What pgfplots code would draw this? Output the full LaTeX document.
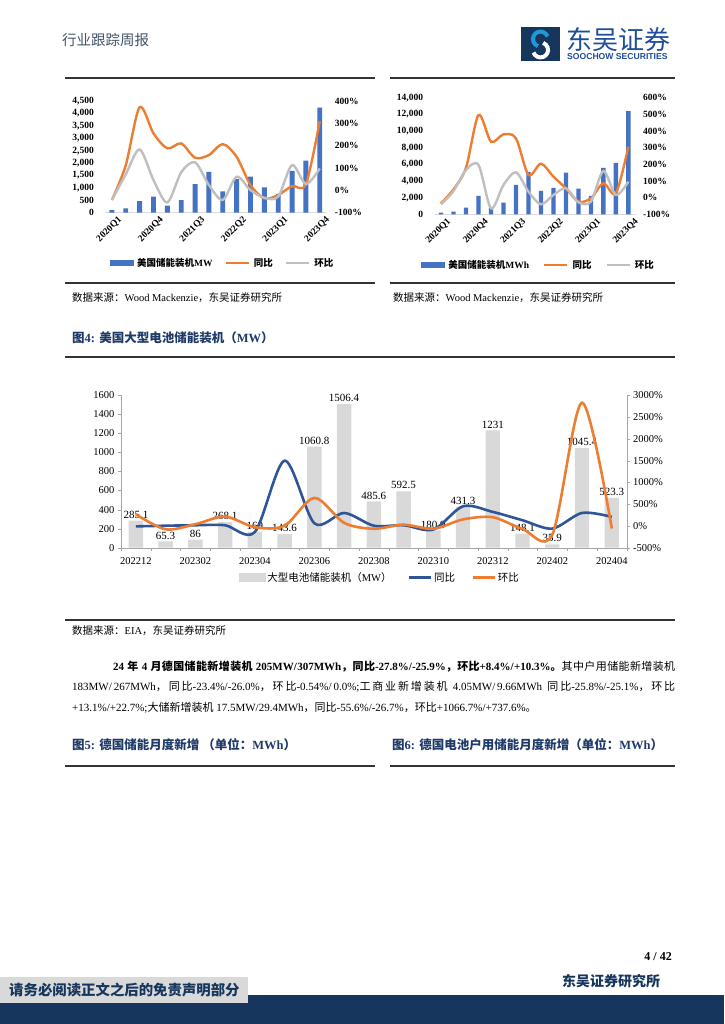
\documentclass[border=0pt]{standalone}
\usepackage{fontspec}
\setmainfont{Liberation Serif}
\newfontfamily\cjk{Noto Sans CJK SC}
\newfontfamily\arialf{Liberation Sans}
\usepackage{pgfplots}
\pgfplotsset{compat=1.18}
\XeTeXlinebreaklocale "zh"
\XeTeXlinebreakskip=0pt plus 1pt
\XeTeXinterchartokenstate=1
\newXeTeXintercharclass\CJKcls
\newcount\tmpc
\def\setcls#1#2{\tmpc=#1\relax\loop\XeTeXcharclass\tmpc=\CJKcls\relax\advance\tmpc by 1\relax\ifnum\tmpc<#2\repeat}
\setcls{"3000}{"3040}
\setcls{"4E00}{"A000}
\setcls{"FF00}{"FF60}
\XeTeXinterchartoks 0 \CJKcls = {\begingroup\cjk}
\XeTeXinterchartoks 4095 \CJKcls = {\begingroup\cjk}
\XeTeXinterchartoks \CJKcls 0 = {\endgroup}
\XeTeXinterchartoks \CJKcls 4095 = {\endgroup}
\definecolor{barblue}{HTML}{4472C4}
\definecolor{lnorange}{HTML}{ED7D31}
\definecolor{lngray}{HTML}{BFBFBF}
\definecolor{cbar}{HTML}{D9D9D9}
\definecolor{cblue}{HTML}{2F5597}
\definecolor{axgray}{HTML}{A6A6A6}
\definecolor{titlenavy}{HTML}{1F3A68}
\definecolor{bandnavy}{HTML}{17365D}
\definecolor{hdrgray}{HTML}{44546A}
\definecolor{logoblue}{HTML}{1E4E9A}
\definecolor{logolight}{HTML}{1E9BD7}
\definecolor{footgray}{HTML}{D9D9D9}
\pgfplotsset{
  qstyle/.style={
    scale only axis, anchor=south west, xmin=-0.5, xmax=15.5,
    tick style={draw=none}, scaled y ticks=false,
    /pgf/number format/1000 sep={,},
    /pgf/number format/assume math mode=true,
    yticklabel style={font=\bfseries\fontsize{9.5}{9.5}\selectfont, inner sep=0pt},
  },
}
\begin{document}
\begin{tikzpicture}
\useasboundingbox (0,0) rectangle (724pt,-1024pt);
\fill[white] (0,0) rectangle (724pt,-1024pt);
% header
\node[anchor=west,inner sep=0,font=\fontsize{14.5}{14.5}\selectfont,text=hdrgray] at (62pt,-40pt) {行业跟踪周报};
\fill[bandnavy] (521pt,-27pt) rectangle (560pt,-61pt);
\draw[logolight, line width=4pt] (547.5pt,-36.5pt) arc[start angle=20, end angle=250, radius=7.5pt];
\draw[white, line width=4pt] (533.5pt,-52.5pt) arc[start angle=200, end angle=430, radius=7.5pt];
\node[anchor=west,inner sep=0,font=\fontsize{26}{26}\selectfont,text=logoblue] at (566pt,-40pt) {东吴证券};
\node[anchor=west,inner sep=0,font=\arialf\bfseries\fontsize{8.6}{8.6}\selectfont,text=logoblue] at (567pt,-57pt) {SOOCHOW SECURITIES};
% frame lines
\draw[line width=1.3pt, black!80] (65pt,-78pt) -- (375pt,-78pt) (390pt,-78pt) -- (675pt,-78pt);
\draw[line width=1.3pt, black!80] (65pt,-283pt) -- (375pt,-283pt) (390pt,-283pt) -- (675pt,-283pt);
\node[anchor=west,inner sep=0,font=\fontsize{10.5}{10.5}\selectfont] at (72pt,-298pt) {数据来源：Wood Mackenzie，东吴证券研究所};
\node[anchor=west,inner sep=0,font=\fontsize{10.5}{10.5}\selectfont] at (393pt,-298pt) {数据来源：Wood Mackenzie，东吴证券研究所};
\node[anchor=west,inner sep=0,font=\bfseries\fontsize{12.5}{12.5}\selectfont,text=titlenavy] at (72pt,-338pt) {图4: 美国大型电池储能装机（MW）};
\draw[line width=1.3pt, black!80] (65pt,-357pt) -- (675pt,-357pt);
\draw[line width=1.3pt, black!80] (65pt,-620pt) -- (675pt,-620pt);
\node[anchor=west,inner sep=0,font=\fontsize{10.5}{10.5}\selectfont] at (72pt,-631pt) {数据来源：EIA，东吴证券研究所};
\node[anchor=north west,inner sep=0,text width=603pt,align=justify,font=\fontsize{11}{20.5}\selectfont] at (72pt,-660.5pt)
 {\hspace*{41pt}{\bfseries 24 年 4 月德国储能新增装机 205MW/307MWh，同比-27.8\%/-25.9\%，环比+8.4\%/+10.3\%。}其中户用储能新增装机\linebreak
 183MW/267MWh，同比-23.4\%/-26.0\%，环比-0.54\%/0.0\%;工商业新增装机 4.05MW/9.66MWh 同比-25.8\%/-25.1\%，环比\linebreak
 +13.1\%/+22.7\%;大储新增装机 17.5MW/29.4MWh，同比-55.6\%/-26.7\%，环比+1066.7\%/+737.6\%。};
\node[anchor=west,inner sep=0,font=\bfseries\fontsize{12.5}{12.5}\selectfont,text=titlenavy] at (72pt,-745pt) {图5: 德国储能月度新增 （单位：MWh）};
\node[anchor=west,inner sep=0,font=\bfseries\fontsize{12.5}{12.5}\selectfont,text=titlenavy] at (392pt,-745pt) {图6: 德国电池户用储能月度新增（单位：MWh）};
\draw[line width=1.3pt, black!80] (65pt,-766pt) -- (375pt,-766pt) (390pt,-766pt) -- (675pt,-766pt);
% footer
\node[anchor=east,inner sep=0,font=\bfseries\fontsize{12}{12}\selectfont] at (672pt,-957pt) {4 / 42};
\node[anchor=west,inner sep=0,font=\bfseries\fontsize{14}{14}\selectfont,text=bandnavy] at (562pt,-981pt) {东吴证券研究所};
\fill[bandnavy] (0,-995pt) rectangle (724pt,-1024pt);
\fill[footgray] (0,-977pt) rectangle (248pt,-1003pt);
\node[anchor=west,inner sep=0,font=\bfseries\fontsize{14.4}{14.4}\selectfont,text=bandnavy] at (9pt,-990pt) {请务必阅读正文之后的免责声明部分};

% ---------- chart 1 ----------
\begin{axis}[qstyle, at={(105pt,-212.7pt)}, width=221.7pt, height=111.7pt,
  ymin=0, ymax=4500, ytick={0,500,...,4500},
  axis x line*=bottom, axis y line*=left,
  y axis line style={draw=none}, x axis line style={draw=cbar, line width=0.7pt, -},
  xtick={0,3,6,9,12,15}, xticklabels={2020Q1,2020Q4,2021Q3,2022Q2,2023Q1,2023Q4},
  xticklabel style={rotate=45, anchor=east, font=\bfseries\fontsize{9.5}{9.5}\selectfont, inner sep=0pt, xshift=2pt, yshift=-10pt},
  yticklabel style={xshift=-11pt}]
\addplot[ybar, bar width=4.9pt, fill=barblue, draw=none] coordinates {
(0,100)(1,175)(2,470)(3,645)(4,282)(5,510)(6,1155)(7,1640)(8,860)(9,1357)(10,1450)(11,1020)(12,760)(13,1680)(14,2095)(15,4230)};
\end{axis}
\begin{axis}[qstyle, at={(105pt,-212.7pt)}, width=221.7pt, height=111.7pt,
  ymin=-100, ymax=400, ytick={-100,0,...,400},
  axis y line*=right, axis x line=none, y axis line style={draw=none},
  yticklabel={\pgfmathprintnumber{\tick}\%}, yticklabel style={anchor=west, xshift=8pt},
  legend image code/.code={\draw[#1] (0pt,0pt) -- (23pt,0pt);},
  legend style={at={(0.53,-0.45)}, anchor=center, draw=none, fill=none, legend columns=3,
    font=\bfseries\fontsize{9.5}{9.5}\selectfont, /tikz/every even column/.append style={column sep=10pt},
    /tikz/every odd column/.append style={column sep=2pt}},
  legend cell align=left]
\addlegendimage{legend image code/.code={\fill[barblue] (0pt,-2.6pt) rectangle (23pt,2.6pt);}}
\addlegendentry{美国储能装机MW}
\addplot[smooth, lnorange, line width=2.4pt] coordinates {
(0,-43)(1,113)(2,372)(3,255)(4,188)(5,210)(6,146)(7,158)(8,207)(9,150)(10,24)(11,-36)(12,-21)(13,19)(14,28)(15,310)};
\addlegendentry{同比}
\addplot[smooth, lngray, line width=2.4pt] coordinates {
(0,-43)(1,72)(2,183)(3,46)(4,-54)(5,81)(6,125)(7,24)(8,-43)(9,61)(10,1)(11,-33)(12,-28)(13,113)(14,28)(15,98)};
\addlegendentry{环比}
\end{axis}

% ---------- chart 2 ----------
\begin{axis}[qstyle, at={(434.8pt,-214.3pt)}, width=199.8pt, height=116.6pt,
  ymin=0, ymax=14000, ytick={0,2000,...,14000},
  axis x line*=bottom, axis y line*=left,
  y axis line style={draw=none}, x axis line style={draw=cbar, line width=0.7pt, -},
  xtick={0,3,6,9,12,15}, xticklabels={2020Q1,2020Q4,2021Q3,2022Q2,2023Q1,2023Q4},
  xticklabel style={rotate=45, anchor=east, font=\bfseries\fontsize{9.5}{9.5}\selectfont, inner sep=0pt, xshift=2pt, yshift=-10pt},
  yticklabel style={xshift=-11.5pt}]
\addplot[ybar, bar width=4.3pt, fill=barblue, draw=none] coordinates {
(0,200)(1,320)(2,800)(3,2200)(4,800)(5,1400)(6,3520)(7,5080)(8,2800)(9,3160)(10,5000)(11,3080)(12,2200)(13,5560)(14,6160)(15,12400)};
\end{axis}
\begin{axis}[qstyle, at={(434.8pt,-214.3pt)}, width=199.8pt, height=116.6pt,
  ymin=-100, ymax=600, ytick={-100,0,...,600},
  axis y line*=right, axis x line=none, y axis line style={draw=none},
  yticklabel={\pgfmathprintnumber{\tick}\%}, yticklabel style={anchor=west, xshift=8.4pt},
  legend image code/.code={\draw[#1] (0pt,0pt) -- (23pt,0pt);},
  legend style={at={(0.519,-0.435)}, anchor=center, draw=none, fill=none, legend columns=3,
    font=\bfseries\fontsize{9.5}{9.5}\selectfont, /tikz/every even column/.append style={column sep=12pt},
    /tikz/every odd column/.append style={column sep=2pt}},
  legend cell align=left]
\addlegendimage{legend image code/.code={\fill[barblue] (0pt,-2.6pt) rectangle (23pt,2.6pt);}}
\addlegendentry{美国储能装机MWh}
\addplot[smooth, lnorange, line width=2.4pt] coordinates {
(0,-34)(1,50)(2,180)(3,496)(4,336)(5,380)(6,356)(7,136)(8,204)(9,126)(10,56)(11,-24)(12,-4)(13,86)(14,26)(15,306)};
\addlegendentry{同比}
\addplot[smooth, lngray, line width=2.4pt] coordinates {
(0,-40)(1,40)(2,166)(3,196)(4,-64)(5,76)(6,152)(7,36)(8,-40)(9,16)(10,56)(11,-28)(12,-24)(13,160)(14,16)(15,96)};
\addlegendentry{环比}
\end{axis}

% ---------- chart 3 ----------
\begin{axis}[scale only axis, anchor=south west, at={(121pt,-547.7pt)}, width=505.7pt, height=152.4pt,
  xmin=-0.5, xmax=16.5, ymin=0, ymax=1600, ytick={0,200,...,1600},
  scaled y ticks=false, /pgf/number format/1000 sep={}, /pgf/number format/assume math mode=true,
  axis x line*=bottom, axis y line*=left,
  x axis line style={draw=axgray, -}, y axis line style={draw=axgray, -},
  tick align=outside, major tick length=3pt, tick style={draw=axgray},
  xtick={0,2,...,16}, xticklabels={202212,202302,202304,202306,202308,202310,202312,202402,202404},
  major x tick style={draw=none},
  extra x ticks={-0.5,0.5,...,16.5}, extra x tick labels={},
  extra x tick style={major x tick style={draw=axgray}},
  xticklabel style={font=\fontsize{10.5}{10.5}\selectfont, yshift=-3.5pt},
  yticklabel style={font=\fontsize{10.5}{10.5}\selectfont},
  nodes near coords, point meta=explicit symbolic,
  nodes near coords style={font=\fontsize{11}{11}\selectfont, inner sep=2pt}]
\addplot[ybar, bar width=14.3pt, fill=cbar, draw=none] coordinates {
(0,285.1)[285.1] (1,65.3)[65.3] (2,86)[86] (3,268.1)[268.1] (4,169)[169] (5,143.6)[143.6]
(6,1060.8)[1060.8] (7,1506.4)[1506.4] (8,485.6)[485.6] (9,592.5)[592.5] (10,180.9)[180.9]
(11,431.3)[431.3] (12,1231)[1231] (13,148.1)[148.1] (14,35.9)[35.9] (15,1045.4)[1045.4] (16,523.3)[523.3]};
\end{axis}
\begin{axis}[scale only axis, anchor=south west, at={(121pt,-547.7pt)}, width=505.7pt, height=152.4pt,
  xmin=-0.5, xmax=16.5, ymin=-500, ymax=3000, ytick={-500,0,...,3000},
  scaled y ticks=false, /pgf/number format/1000 sep={}, /pgf/number format/assume math mode=true,
  axis y line*=right, axis x line=none, y axis line style={draw=axgray, -},
  tick align=outside, major tick length=3pt, tick style={draw=axgray},
  yticklabel={\pgfmathprintnumber{\tick}\%},
  yticklabel style={font=\fontsize{10.5}{10.5}\selectfont},
  legend image code/.code={\draw[#1] (0pt,0pt) -- (22pt,0pt);},
  legend style={at={(0.512,-0.195)}, anchor=center, draw=none, fill=none, legend columns=3,
    font=\fontsize{10.5}{10.5}\selectfont, /tikz/every even column/.append style={column sep=14pt}},
  legend cell align=left]
\addlegendimage{legend image code/.code={\fill[cbar] (0pt,-4pt) rectangle (26pt,4pt);}}
\addlegendentry{大型电池储能装机（MW）}
\addplot[smooth, cblue, line width=2.6pt] coordinates {
(0,-10)(1,5)(2,16)(3,16)(4,-140)(5,1498)(6,60)(7,298)(8,5)(9,16)(10,-84)(11,452)(12,322)(13,130)(14,-61)(15,299)(16,207)};
\addlegendentry{同比}
\addplot[smooth, lnorange, line width=2.6pt] coordinates {
(0,266)(1,-78)(2,40)(3,215)(4,-30)(5,5)(6,645)(7,70)(8,-65)(9,28)(10,-65)(11,150)(12,200)(13,-70)(14,-200)(15,2830)(16,-60)};
\addlegendentry{环比}
\end{axis}
\end{tikzpicture}
\end{document}
